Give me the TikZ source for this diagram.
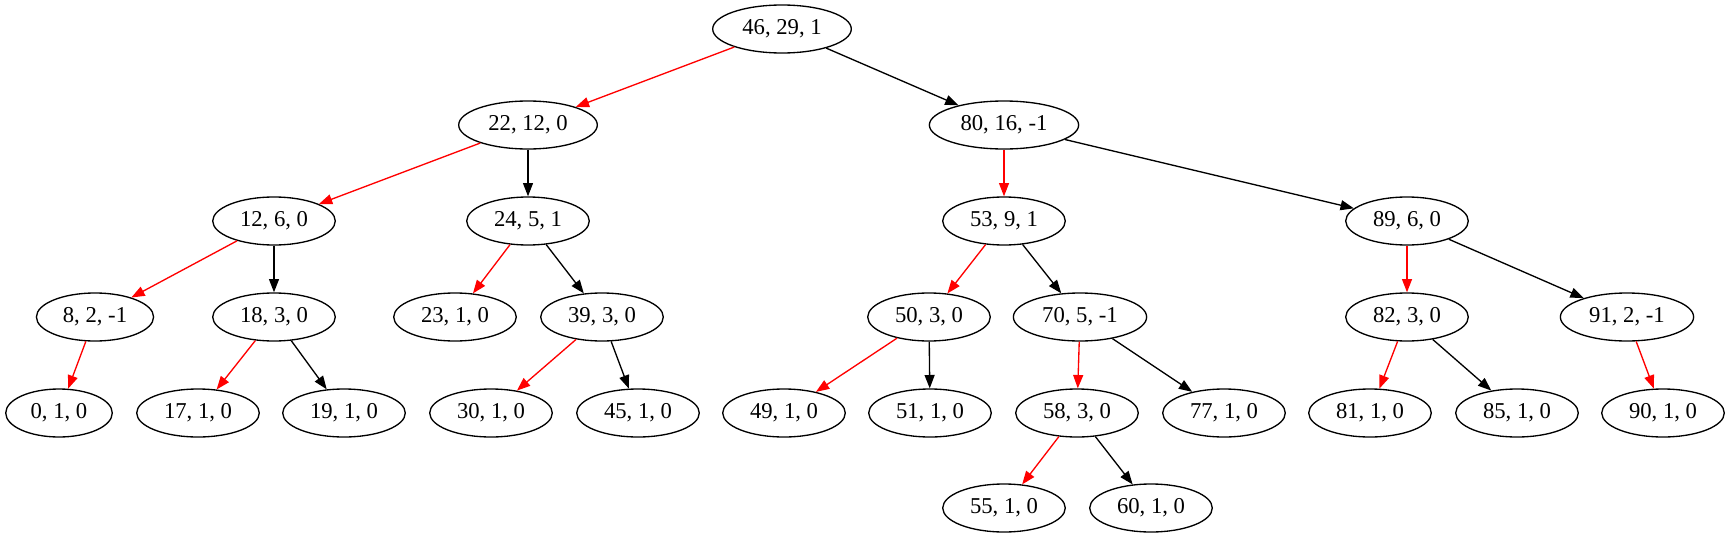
\documentclass[tikz,border=0pt]{standalone}
\usepackage{fontspec}
\setmainfont{Liberation Serif}
\usetikzlibrary{shapes.geometric,arrows.meta}
\begin{document}
\begin{tikzpicture}[x=0.75pt,y=-0.75pt]
        \tikzset{key/.style={ellipse,draw,line width=1pt,inner xsep=7pt,inner ysep=2pt,minimum height=36pt,font=\fontsize{17pt}{19pt}\selectfont},
            link/.style={line width=1pt,-{Triangle[length=10pt,width=7.5pt]}},
            lo/.style={link,red}, hi/.style={link,black}}
        \useasboundingbox (0,0) rectangle (1731,539);
        \foreach \k/\x/\y/\t in {46/782/29/{46, 29, 1}, 22/528/125/{22, 12, 0}, 80/1004/125/{80, 16, -1},
                12/274/221/{12, 6, 0}, 24/528/221/{24, 5, 1}, 53/1004/221/{53, 9, 1}, 89/1407/221/{89, 6, 0},
                8/95/317/{8, 2, -1}, 18/274/317/{18, 3, 0}, 23/455/317/{23, 1, 0}, 39/602/317/{39, 3, 0},
                50/929/317/{50, 3, 0}, 70/1080/317/{70, 5, -1}, 82/1407/317/{82, 3, 0}, 91/1627/317/{91, 2, -1},
                0/59/413/{0, 1, 0}, 17/198/413/{17, 1, 0}, 19/344/413/{19, 1, 0}, 30/491/413/{30, 1, 0},
                45/638/413/{45, 1, 0}, 49/784/413/{49, 1, 0}, 51/930/413/{51, 1, 0}, 58/1077/413/{58, 3, 0},
                77/1224/413/{77, 1, 0}, 81/1370/413/{81, 1, 0}, 85/1517/413/{85, 1, 0}, 90/1663/413/{90, 1, 0},
                55/1004/508/{55, 1, 0}, 60/1151/508/{60, 1, 0}}
            \node[key] (n\k) at (\x,\y) {\t};
        % left children in red, right children in black
        \foreach \a/\b in {46/22, 22/12, 12/8, 8/0, 18/17, 24/23, 39/30, 80/53, 53/50, 50/49, 70/58, 58/55, 89/82, 82/81, 91/90}
            \draw[lo] (n\a) -- (n\b);
        \foreach \a/\b in {46/80, 22/24, 12/18, 18/19, 24/39, 39/45, 80/89, 53/70, 50/51, 70/77, 58/60, 89/91, 82/85}
            \draw[hi] (n\a) -- (n\b);
    \end{tikzpicture}
\end{document}
